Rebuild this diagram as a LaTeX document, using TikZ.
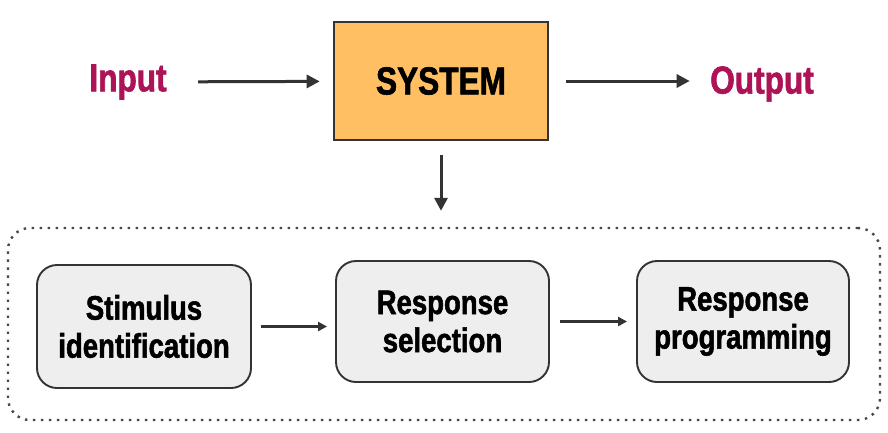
\documentclass[tikz,border=0pt]{standalone}
\usepackage{fontspec}
\setmainfont{Liberation Sans}[FakeStretch=0.81, BoldFeatures={FakeBold=1.6}]
\usetikzlibrary{arrows.meta}
\definecolor{crimson}{HTML}{AD1457}
\definecolor{sysorange}{HTML}{FFBF62}
\definecolor{stagegray}{HTML}{EEEEEE}
\definecolor{edge}{HTML}{333333}
\tikzset{
  big/.style={font=\fontsize{39}{42}\selectfont\bfseries},
  stage/.style={draw=edge, line width=1.9pt, fill=stagegray, rounded corners=20pt,
    align=center, font=\fontsize{34}{38}\selectfont\bfseries},
  bigarrow/.style={-{Triangle[length=13pt,width=13pt]}, draw=edge, line width=3pt},
  smallarrow/.style={-{Triangle[length=9pt,width=9pt]}, draw=edge, line width=2.2pt}
}
\begin{document}
\begin{tikzpicture}[x=1pt,y=-1pt]
      \useasboundingbox (0,0) rectangle (888,432);

      \node[big, text=crimson] (A) at (128,82) {Input};
      \node[big, draw=edge, line width=2.6pt, fill=sysorange, minimum width=214pt,
        minimum height=118pt] (B) at (441,81) {SYSTEM};
      \node[big, text=crimson] (C) at (762,84) {Output};

      \node[draw=edge!90, line width=2.4pt, dash pattern=on 2.4pt off 5.6pt, rounded corners=22pt,
        minimum width=872pt, minimum height=192pt] (G) at (444,324) {};

      \node[stage, minimum width=214pt, minimum height=123pt] (D) at (144,326.5) {Stimulus\\identification};
      \node[stage, minimum width=213pt, minimum height=121pt] (E) at (442.5,321.5) {Response\\selection};
      \node[stage, minimum width=212pt, minimum height=121pt] (F) at (743,321.5) {Response\\programming};

      \draw[bigarrow, shorten <=28pt, shorten >=13pt] (A) -- (B);
      \draw[bigarrow, shorten <=17pt, shorten >=17pt] (B.east) -- (B.east -| C.west);
      \draw[bigarrow, shorten <=14pt, shorten >=16pt] (B.south) -- (B.south |- G.north);
      \draw[smallarrow, shorten <=9pt, shorten >=8pt] (D) -- (D -| E.west);
      \draw[smallarrow, shorten <=10pt, shorten >=9pt] (E) -- (F);
    \end{tikzpicture}
\end{document}
